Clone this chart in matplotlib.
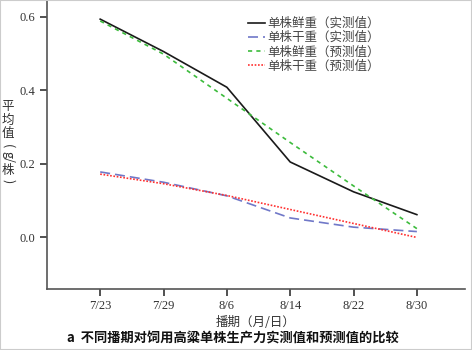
import matplotlib.pyplot as plt
from matplotlib.patches import Rectangle

plt.rcParams['font.family'] = ['Liberation Serif', 'Noto Sans CJK SC']

dates = ['7/23', '7/29', '8/6', '8/14', '8/22', '8/30']
fresh_actual = [0.593, 0.505, 0.408, 0.205, 0.124, 0.062]
dry_actual = [0.178, 0.150, 0.113, 0.053, 0.028, 0.016]
fresh_pred = [0.588, 0.498, 0.378, 0.258, 0.140, 0.024]
dry_pred = [0.172, 0.146, 0.114, 0.076, 0.038, 0.000]

labels = ['单株鲜重（实测值）', '单株干重（实测值）', '单株鲜重（预测值）', '单株干重（预测值）']

fig = plt.figure(figsize=(4.72, 3.5), dpi=100)
ax = fig.add_axes([47 / 472, 1 - 289 / 350, 418 / 472, 289 / 350])

x = range(len(dates))
ax.plot(x, fresh_actual, color='#1a1a1a', lw=1.2, label=labels[0])
ax.plot(x, dry_actual, color='#7078c8', lw=1.2, ls=(0, (6, 3)), label=labels[1])
ax.plot(x, fresh_pred, color='#3cbb3c', lw=1.2, ls=(0, (2.5, 2.5)), label=labels[2])
ax.plot(x, dry_pred, color='#ff3030', lw=1.2, ls=(0, (1, 1)), label=labels[3])

ax.set_xlim(-0.84, 5.76)
ax.set_ylim(-0.14, 0.645)
ax.set_xticks(list(x))
ax.set_xticklabels(dates)
ax.set_yticks([0.0, 0.2, 0.4, 0.6])
ax.set_yticklabels(['0.0', '0.2', '0.4', '0.6'])
ax.tick_params(labelsize=9, colors='#333333', length=5, width=1.2)
ax.tick_params(axis='x', pad=3)

for s in ['top', 'right']:
    ax.spines[s].set_visible(False)
for s in ['left', 'bottom']:
    ax.spines[s].set_color('#555555')
    ax.spines[s].set_linewidth(1.2)

leg = ax.legend(loc='upper left', bbox_to_anchor=(0.455, 0.98), frameon=False,
                handlelength=1.3, handletextpad=0.2, labelspacing=0.1,
                prop={'family': 'Noto Sans CJK SC', 'size': 9})
for t in leg.get_texts():
    t.set_color('#444444')

# stacked y label
cjk = 'Noto Sans CJK SC'
for ch, yy in [('平', 106), ('均', 120), ('值', 134), ('株', 170)]:
    fig.text(8 / 472, 1 - yy / 350, ch, family=cjk, fontsize=9, ha='center', va='center', color='#333333')
for ch, yy in [('(', 146), ('g/', 157), (')', 181)]:
    fig.text(8 / 472, 1 - yy / 350, ch, family=cjk, fontsize=9, ha='center', va='center',
             rotation=-90, color='#333333')

fig.text(256 / 472, 1 - 322 / 350, '播期（月/日）', family=cjk, fontsize=9, ha='center', va='center',
         color='#333333')
fig.text(233 / 472, 1 - 338 / 350, 'a  不同播期对饲用高粱单株生产力实测值和预测值的比较', family=cjk,
         fontsize=9.5, fontweight='bold', ha='center', va='center', color='#111111')

fig.patches.append(Rectangle((0, 0), 1, 1, transform=fig.transFigure, fill=False,
                             edgecolor='#cccccc', lw=1.5))

fig.savefig('out.png', dpi=100)
